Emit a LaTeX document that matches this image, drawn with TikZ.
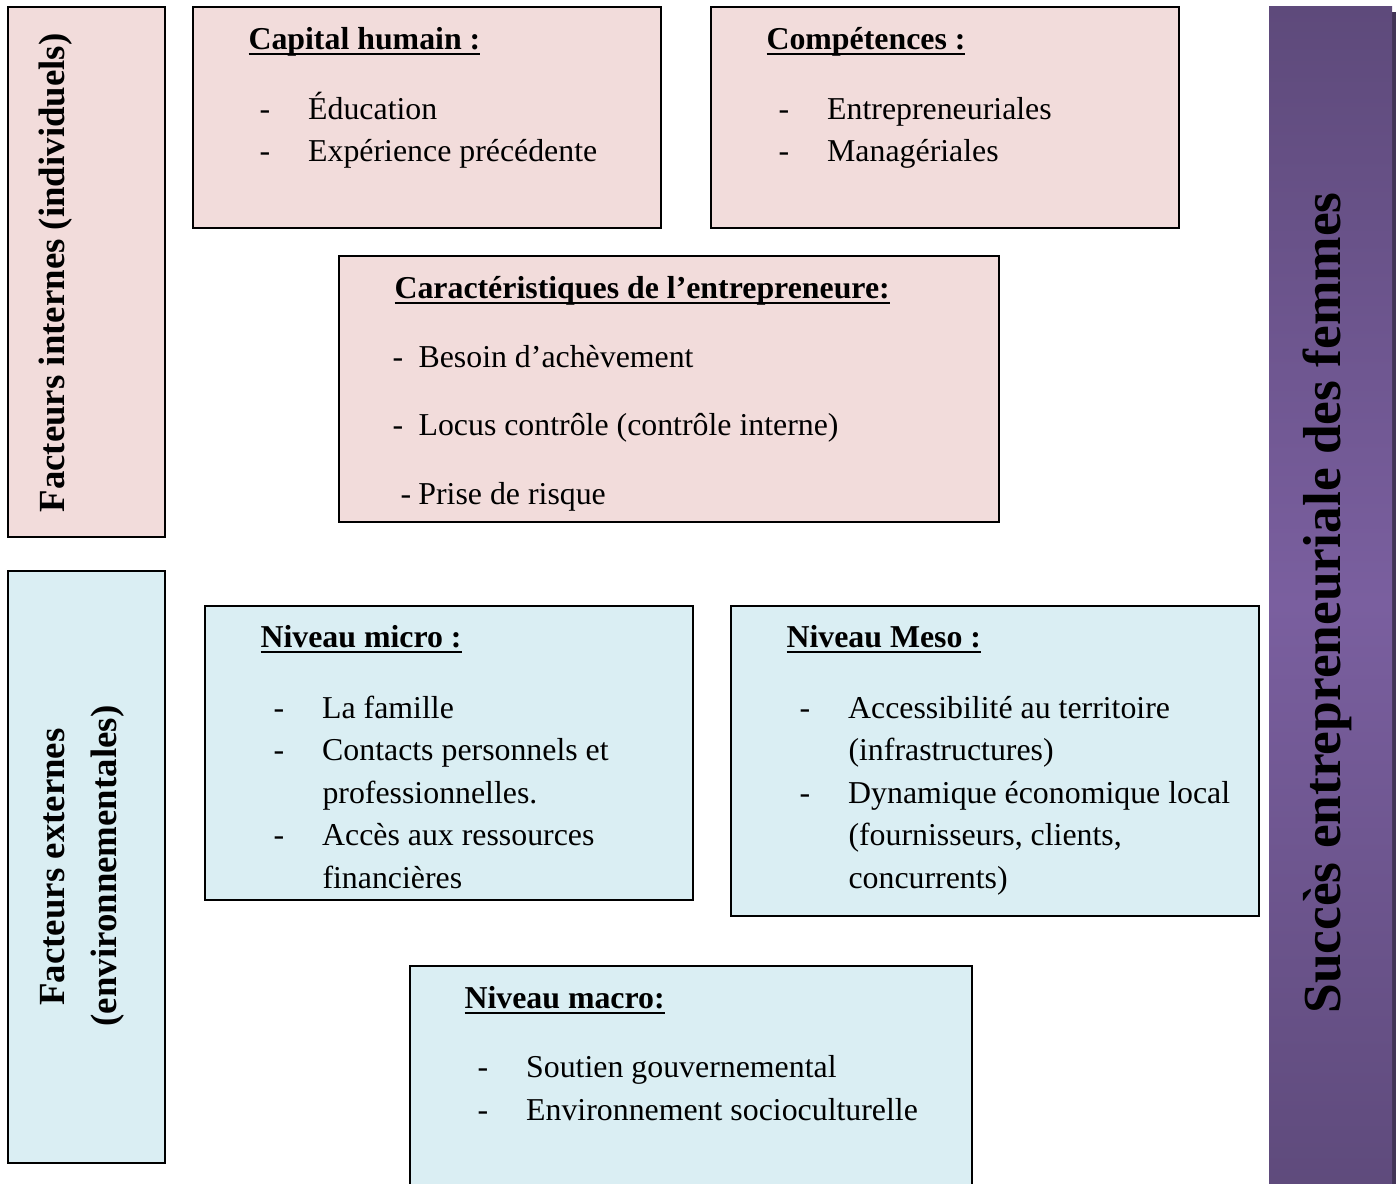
\documentclass[tikz,border=0pt]{standalone}
\usepackage{fontspec}
\setmainfont{Liberation Serif}
\definecolor{rosefond}{HTML}{F2DCDB}
\definecolor{bleufond}{HTML}{DAEEF3}
\definecolor{violetfonce}{HTML}{5E4A7B}
\definecolor{violetclair}{HTML}{7A5F9F}
\newcommand{\titre}[1]{\setbox0\hbox{\bfseries #1}\rlap{\rule[-2pt]{\wd0}{0.8pt}}\box0}
\newcommand{\puce}[1][18.5pt]{\makebox[#1][l]{-}}
\begin{document}
\begin{tikzpicture}[x=0.38pt, y=-0.38pt, font=\fontsize{12.1}{14}\selectfont,
    rose/.style={fill=rosefond, draw=black, line width=0.7pt},
    bleu/.style={fill=bleufond, draw=black, line width=0.7pt},
    ligne/.style={anchor=base west, inner sep=0pt},
    vertical/.style={anchor=base, inner sep=0pt, rotate=90, font=\fontsize{14}{16}\selectfont\bfseries}]
\useasboundingbox (0,0) rectangle (1400,1184);
\clip (0,0) rectangle (1400,1184);

% facteurs internes
\draw[rose] (8,7) rectangle (165,537);
\node[vertical] (internes) at (65,273) {Facteurs internes (individuels)};

\draw[rose] (193,7) rectangle (661,228);
\node[ligne] (capital) at (248,50) {\titre{Capital humain :}};
\node[ligne] (capA) at (259,120) {\puce Éducation};
\node[ligne] (capB) at (259,162) {\puce Expérience précédente};

\draw[rose] (711,7) rectangle (1179,228);
\node[ligne] (comp) at (766,50) {\titre{Compétences :}};
\node[ligne] (compA) at (778,120) {\puce Entrepreneuriales};
\node[ligne] (compB) at (778,162) {\puce Managériales};

\draw[rose] (339,256) rectangle (999,522);
\node[ligne] (carac) at (394,299) {\titre{Caractéristiques de l’entrepreneure:}};
\node[ligne] (caracA) at (392,368) {\puce[9.9pt]Besoin d’achèvement};
\node[ligne] (caracB) at (392,436) {\puce[9.9pt]Locus contrôle (contrôle interne)};
\node[ligne] (caracC) at (400,505) {\puce[6.8pt]Prise de risque};

% facteurs externes
\draw[bleu] (8,571) rectangle (165,1163);
\node[vertical] (externesA) at (65,867) {Facteurs externes};
\node[vertical] (externesB) at (116,866) {(environnementales)};

\draw[bleu] (205,606) rectangle (693,900);
\node[ligne] (micro) at (260,648) {\titre{Niveau micro :}};
\node[ligne] (microA) at (273,719) {\puce La famille};
\node[ligne] (microB) at (273,761) {\puce Contacts personnels et};
\node[ligne] (microC) at (322,804) {professionnelles.};
\node[ligne] (microD) at (273,846) {\puce Accès aux ressources};
\node[ligne] (microE) at (322,889) {financières};

\draw[bleu] (731,606) rectangle (1259,916);
\node[ligne] (meso) at (786,648) {\titre{Niveau Meso :}};
\node[ligne] (mesoA) at (799,719) {\puce Accessibilité au territoire};
\node[ligne] (mesoB) at (848,761) {(infrastructures)};
\node[ligne] (mesoC) at (799,804) {\puce Dynamique économique local};
\node[ligne] (mesoD) at (848,846) {(fournisseurs, clients,};
\node[ligne] (mesoE) at (848,889) {concurrents)};

\draw[bleu] (410,966) rectangle (972,1200);
\node[ligne] (macro) at (464,1009) {\titre{Niveau macro:}};
\node[ligne] (macroA) at (477,1078) {\puce Soutien gouvernemental};
\node[ligne] (macroB) at (477,1120) {\puce Environnement socioculturelle};

% barre de droite
\fill[violetfonce!70!black] (1392,12) rectangle (1396,1200);
\shade[top color=violetfonce, bottom color=violetfonce, middle color=violetclair] (1269,7) rectangle (1392,1200);
\node[vertical, font=\fontsize{20.3}{24}\selectfont\bfseries] (succes) at (1340,603) {Succès entrepreneuriale des femmes};
\end{tikzpicture}
\end{document}
